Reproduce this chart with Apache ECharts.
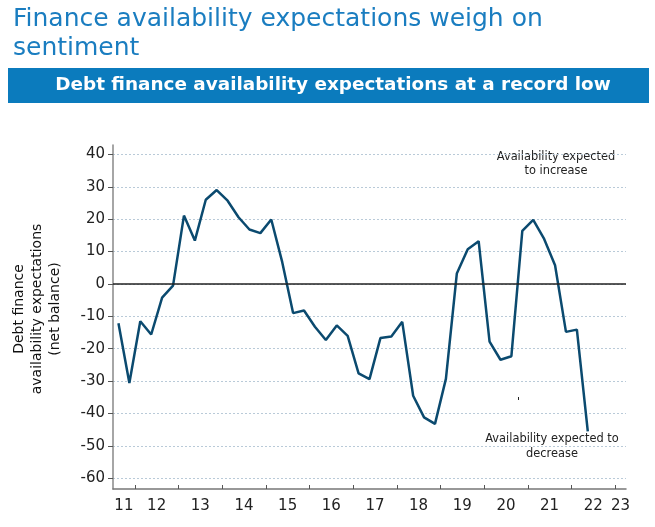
<!DOCTYPE html>
<html>
<head>
<meta charset="utf-8">
<script src="https://cdn.jsdelivr.net/npm/echarts@6/dist/echarts.min.js"></script>
<style>
html,body{margin:0;padding:0;background:#fff;}
#c{width:655px;height:527px;}
</style>
</head>
<body>
<div id="c"></div>
<script>
// Quarterly data, Q3 2011 .. Q2 2022
const startYear = 2011;
const startQuarter = 3;
const values = [
  -12.1, -30.6,
  -11.5, -15.6, -4.2, -0.5,
  21.1, 13.4, 26.0, 29.0,
  25.7, 20.6, 16.8, 15.7,
  19.9, 6.8, -9.0, -8.2,
  -13.2, -17.3, -12.8, -16.0,
  -27.6, -29.4, -16.7, -16.2,
  -11.7, -34.5, -41.2, -43.2,
  -29.3, 3.2, 10.7, 13.2,
  -17.8, -23.4, -22.3, 16.4,
  19.8, 13.9, 5.8, -14.8,
  -14.1, -45.5
];
const yearLabels = ['11','12','13','14','15','16','17','18','19','20','21','22','23'];
const yTicks = [-60,-50,-40,-30,-20,-10,0,10,20,30,40];
const titleText = 'Finance availability expectations weigh on\nsentiment';
const bannerText = 'Debt finance availability expectations at a record low';
const yAxisTitle = 'Debt finance\navailability expectations\n(net balance)';
const noteUp = 'Availability expected\nto increase';
const noteDown = 'Availability expected to\ndecrease';

const xMin = 2011.5, xMax = 2023.25;
const FONT = '"DejaVu Sans", Verdana, sans-serif';

// quarter midpoints as x values
const seriesData = values.map((v, i) => {
  const q = startQuarter - 1 + i;
  const x = startYear + Math.floor(q / 4) + ((q % 4) + 0.5) / 4;
  return [x, v];
});
const years = yearLabels.map(s => 2000 + Number(s));
const tickYears = years.slice(1);
const labelPos = years.map((y, i) => {
  const a = Math.max(y, xMin), b = Math.min(y + 1, xMax);
  return (a + b) / 2;
});
const labelMap = {};
labelPos.forEach((p, i) => { labelMap[p.toFixed(4)] = yearLabels[i]; });

const chart = echarts.init(document.getElementById('c'), null, {renderer: 'canvas'});
chart.setOption({
  animation: false,
  backgroundColor: '#fff',
  textStyle: {fontFamily: FONT},
  title: {
    text: titleText,
    left: 8, top: 0,
    textStyle: {fontFamily: FONT, fontSize: 25, fontWeight: 'normal', color: '#1a7dc0', lineHeight: 29}
  },
  graphic: [
    {type: 'rect', shape: {x: 8, y: 68, width: 641, height: 35}, style: {fill: '#0b7bbd'}, silent: true},
    {type: 'text', x: 333, y: 85.5, style: {text: bannerText, fill: '#fff', font: 'bold 18.4px ' + FONT, textAlign: 'center', textVerticalAlign: 'middle'}},
    {type: 'text', x: 37, y: 309, rotation: Math.PI / 2, style: {text: yAxisTitle, fill: '#111', font: '14px ' + FONT, textAlign: 'center', textVerticalAlign: 'middle', lineHeight: 18}},
    {type: 'text', x: 556, y: 164, style: {text: noteUp, fill: '#222', font: '11.4px ' + FONT, textAlign: 'center', textVerticalAlign: 'middle', lineHeight: 14}},
    {type: 'text', x: 552, y: 447, style: {text: noteDown, fill: '#222', font: '11.4px ' + FONT, textAlign: 'center', textVerticalAlign: 'middle', lineHeight: 15}},
    {type: 'rect', shape: {x: 518, y: 397, width: 1, height: 3}, style: {fill: '#222'}, silent: true}
  ],
  grid: {left: 113, right: 29, top: 145, bottom: 38, containLabel: false},
  xAxis: {
    type: 'value', min: xMin, max: xMax,
    axisLine: {show: true, onZero: false, lineStyle: {color: '#777', width: 1.5}},
    axisTick: {show: true, inside: true, length: 4, customValues: tickYears, lineStyle: {color: '#555'}},
    axisLabel: {
      customValues: labelPos, fontSize: 15, color: '#222', fontFamily: FONT, margin: 10,
      formatter: v => labelMap[Number(v).toFixed(4)] || ''
    },
    splitLine: {show: false}
  },
  yAxis: {
    type: 'value', min: -63.3, max: 42.9,
    axisLine: {show: true, onZero: false, lineStyle: {color: '#888', width: 1.5}},
    axisTick: {show: true, length: 5, customValues: yTicks, lineStyle: {color: '#555'}},
    axisLabel: {customValues: yTicks, fontSize: 15, color: '#222', fontFamily: FONT, margin: 8},
    splitLine: {show: true, lineStyle: {color: '#b9cad8', type: [2, 2], width: 1}}
  },
  series: [{
    type: 'line',
    data: seriesData,
    symbol: 'none',
    lineStyle: {color: '#0b4a6f', width: 2.5},
    markLine: {
      silent: true, symbol: 'none', label: {show: false},
      lineStyle: {color: '#222', type: 'solid', width: 1.5},
      data: [{yAxis: 0}]
    }
  }]
});
</script>
</body>
</html>
